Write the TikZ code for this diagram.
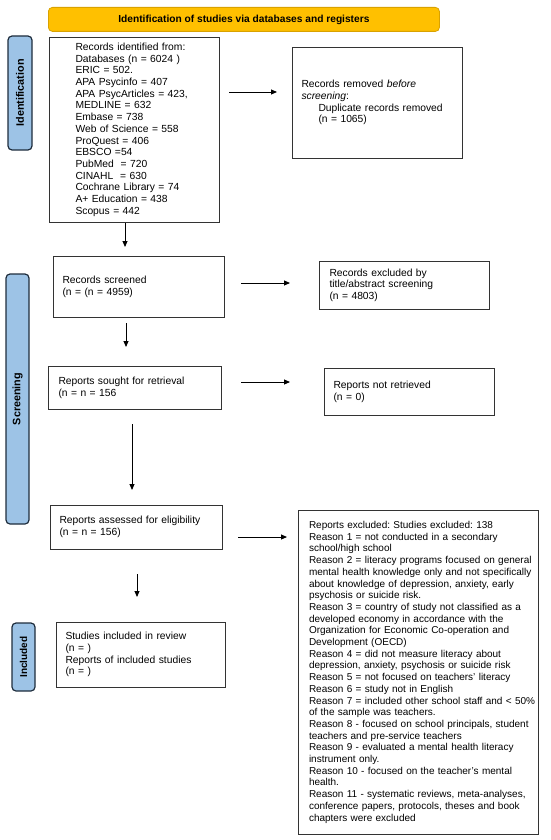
\documentclass[tikz,border=0pt]{standalone}
\usepackage{fontspec}
\setmainfont{Liberation Sans}
\usetikzlibrary{arrows.meta}
\frenchspacing
\newcommand\boxlines[1]{\noindent\begin{tabular}{@{}l@{}}#1\end{tabular}}
\definecolor{titlefill}{HTML}{FFC000}
\definecolor{titledraw}{HTML}{D9A200}
\definecolor{phasefill}{HTML}{9DC3E6}
\definecolor{phasedraw}{HTML}{1F2D3D}
\begin{document}
\frenchspacing
\begin{tikzpicture}[x=1pt,y=-1pt,
  box/.style={draw=black!80, line width=1pt, anchor=north west, align=left,
    inner ysep=0pt, font=\frenchspacing\fontsize{10.3}{11.7}\selectfont},
  titlebar/.style={draw=titledraw, fill=titlefill, line width=0.8pt, rounded corners=4pt,
    anchor=north west, minimum width=391pt, minimum height=24pt, inner sep=0pt,
    font=\bfseries\fontsize{10.2}{12}\selectfont},
  phase/.style={draw=phasedraw, fill=phasefill, line width=1.2pt, rounded corners=4pt,
    rotate=90, inner sep=0pt, font=\bfseries\fontsize{10.8}{12}\selectfont},
  arr/.style={draw=black, line width=0.9pt, -{Triangle[length=6pt,width=5pt]}}
]
\useasboundingbox (0,0) rectangle (550,840);

% title
\node[titlebar] (title) at (48,7) {Identification of studies via databases and registers};

% phase labels
\node[phase, minimum width=114pt, minimum height=24pt] (ph1) at (20,93) {Identification};
\node[phase, minimum width=250pt, minimum height=23pt] (ph2) at (17.5,399) {Screening};
\node[phase, minimum width=68pt, minimum height=23pt, font=\bfseries\fontsize{10}{12}\selectfont] (ph3) at (23.5,657) {Included};

% boxes
\node[box, text width=118pt, inner xsep=26pt, minimum height=185pt] (ident) at (49,37) {\boxlines{%
Records identified from:\\
Databases (n = 6024 )\\
ERIC = 502.\\
APA Psycinfo = 407\\
APA PsycArticles = 423,\\
MEDLINE = 632\\
Embase = 738\\
Web of Science = 558\\
ProQuest = 406\\
EBSCO =54\\
PubMed\ \ = 720\\
CINAHL\ \ = 630\\
Cochrane Library = 74\\
A+ Education = 438\\
Scopus = 442}};

\node[box, text width=152pt, inner xsep=9pt, minimum height=111pt] (removed) at (292,47) {\boxlines{%
Records removed \textit{before}\\
\textit{screening}:\\
\hspace*{17pt}Duplicate records removed\\
\hspace*{17pt}(n = 1065)}};

\node[box, text width=153pt, inner xsep=9pt, minimum height=61pt] (screened) at (53,256) {\boxlines{%
Records screened\\
(n = (n = 4959)}};

\node[box, text width=150pt, inner xsep=10pt, minimum height=48pt] (excluded) at (319,261) {\boxlines{%
Records excluded by\\
title/abstract screening\\
(n = 4803)}};

\node[box, text width=153pt, inner xsep=10pt, minimum height=43pt] (sought) at (48,366) {\boxlines{%
Reports sought for retrieval\\
(n = n = 156}};

\node[box, text width=152pt, inner xsep=9pt, minimum height=47pt] (notret) at (324,368) {\boxlines{%
Reports not retrieved\\
(n = 0)}};

\node[box, text width=154pt, inner xsep=9pt, minimum height=44pt] (assessed) at (50,505) {\boxlines{%
Reports assessed for eligibility\\
(n = n = 156)}};

\node[box, text width=219pt, inner xsep=10.5pt, minimum height=324pt,
  font=\frenchspacing\fontsize{10}{11.7}\selectfont] (repexcl) at (298,510) {\boxlines{%
Reports excluded: Studies excluded: 138\\
Reason 1 = not conducted in a secondary\\
school/high school\\
Reason 2 = literacy programs focused on general\\
mental health knowledge only and not specifically\\
about knowledge of depression, anxiety, early\\
psychosis or suicide risk.\\
Reason 3 = country of study not classified as a\\
developed economy in accordance with the\\
Organization for Economic Co-operation and\\
Development (OECD)\\
Reason 4 = did not measure literacy about\\
depression, anxiety, psychosis or suicide risk\\
Reason 5 = not focused on teachers' literacy\\
Reason 6 = study not in English\\
Reason 7 = included other school staff and < 50\%\\
of the sample was teachers.\\
Reason 8 - focused on school principals, student\\
teachers and pre-service teachers\\
Reason 9 - evaluated a mental health literacy\\
instrument only.\\
Reason 10 - focused on the teacher's mental\\
health.\\
Reason 11 - systematic reviews, meta-analyses,\\
conference papers, protocols, theses and book\\
chapters were excluded}};

\node[box, text width=151pt, inner xsep=9pt, minimum height=65pt] (included) at (56,622) {\boxlines{%
Studies included in review\\
(n = )\\
Reports of included studies\\
(n = )}};

% arrows
\draw[arr, shorten <=9pt, shorten >=15pt] (ident.east |- 0,92) -- (removed.west |- 0,92);
\draw[arr, shorten >=9pt] (ident.south -| 125,0) -- (screened.north -| 125,0);
\draw[arr, shorten <=16pt, shorten >=29pt] (screened.east |- 0,283) -- (excluded.west |- 0,283);
\draw[arr, shorten <=5pt, shorten >=19pt] (screened.south -| 126,0) -- (sought.north -| 126,0);
\draw[arr, shorten <=19pt, shorten >=34pt] (sought.east |- 0,382) -- (notret.west |- 0,382);
\draw[arr, shorten <=14pt, shorten >=15pt] (sought.south -| 132,0) -- (assessed.north -| 132,0);
\draw[arr, shorten <=15pt, shorten >=11pt] (assessed.east |- 0,537) -- (repexcl.west |- 0,537);
\draw[arr, shorten <=24pt, shorten >=25pt] (assessed.south -| 137,0) -- (included.north -| 137,0);
\end{tikzpicture}
\end{document}
